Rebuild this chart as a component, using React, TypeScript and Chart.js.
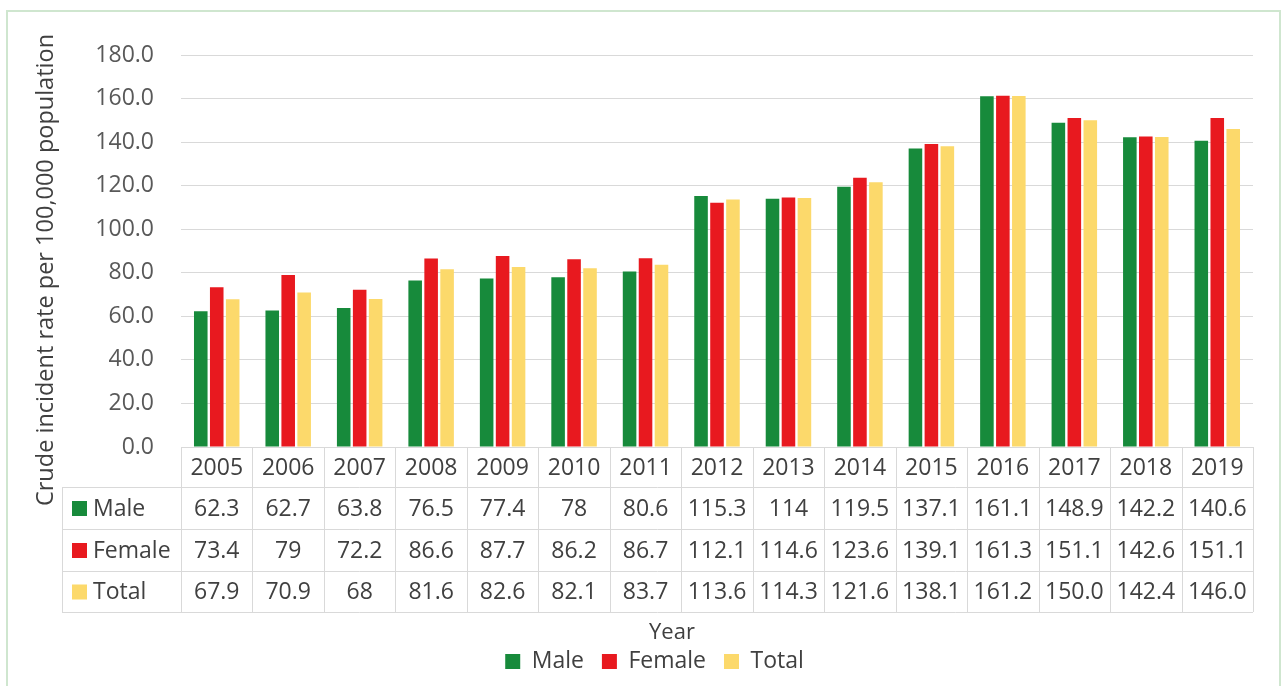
import React, { useEffect, useRef } from "react";
import { Chart, registerables } from "chart.js";

Chart.register(...registerables);

const years = ["2005", "2006", "2007", "2008", "2009", "2010", "2011", "2012", "2013", "2014", "2015", "2016", "2017", "2018", "2019"];
const maleText = ["62.3", "62.7", "63.8", "76.5", "77.4", "78", "80.6", "115.3", "114", "119.5", "137.1", "161.1", "148.9", "142.2", "140.6"];
const femaleText = ["73.4", "79", "72.2", "86.6", "87.7", "86.2", "86.7", "112.1", "114.6", "123.6", "139.1", "161.3", "151.1", "142.6", "151.1"];
const totalText = ["67.9", "70.9", "68", "81.6", "82.6", "82.1", "83.7", "113.6", "114.3", "121.6", "138.1", "161.2", "150.0", "142.4", "146.0"];
const seriesNames = ["Male", "Female", "Total"];
const seriesColors = ["#178a3b", "#e8191f", "#fcd96b"];
const yMin = 0;
const yMax = 180;
const yStep = 20;
const yTitle = "Crude incident rate per 100,000 population";
const xTitle = "Year";

const FONT = "'Open Sans', 'Noto Sans', sans-serif";
const TEXT = "#404040";
const GRID = "#d9d9d9";

const tablePlugin = {
  id: "dataTable",
  afterDraw(chart: any) {
    const { ctx } = chart;
    const x = chart.scales.x;
    const y = chart.scales.y;
    const n = years.length;
    const left = x.left;
    const right = x.right;
    const cw = (right - left) / n;
    const top = y.bottom;
    const rows = [top, top + 40, top + 82, top + 124, top + 165];
    const labelLeft = 62;
    const px = (v: number) => Math.round(v) + 0.5;

    ctx.save();
    ctx.strokeStyle = GRID;
    ctx.lineWidth = 1;
    ctx.beginPath();
    ctx.moveTo(left, px(rows[0]));
    ctx.lineTo(right, px(rows[0]));
    for (let i = 1; i < rows.length; i++) {
      ctx.moveTo(labelLeft, px(rows[i]));
      ctx.lineTo(right, px(rows[i]));
    }
    for (let i = 0; i <= n; i++) {
      const xx = px(left + i * cw);
      ctx.moveTo(xx, rows[0]);
      ctx.lineTo(xx, rows[4]);
    }
    ctx.moveTo(px(labelLeft), rows[1]);
    ctx.lineTo(px(labelLeft), rows[4]);
    ctx.stroke();

    ctx.fillStyle = TEXT;
    ctx.font = `23px ${FONT}`;
    ctx.textAlign = "center";
    ctx.textBaseline = "middle";
    years.forEach((yr, i) => {
      ctx.fillText(yr, x.getPixelForValue(i), (rows[0] + rows[1]) / 2 + 1);
    });
    const texts = [maleText, femaleText, totalText];
    texts.forEach((arr, r) => {
      const cy = (rows[r + 1] + rows[r + 2]) / 2 + 1;
      arr.forEach((t, i) => {
        ctx.fillText(t, x.getPixelForValue(i), cy);
      });
    });
    ctx.textAlign = "left";
    seriesNames.forEach((name, r) => {
      const cy = (rows[r + 1] + rows[r + 2]) / 2;
      ctx.fillStyle = seriesColors[r];
      ctx.fillRect(72, cy - 7, 15, 15);
      ctx.fillStyle = TEXT;
      ctx.fillText(name, 93, cy + 1);
    });

    // axis titles
    ctx.textAlign = "center";
    ctx.font = `23.5px ${FONT}`;
    ctx.save();
    ctx.translate(46, 270);
    ctx.rotate(-Math.PI / 2);
    ctx.fillText(yTitle, 0, 0);
    ctx.restore();
    ctx.font = `22px ${FONT}`;
    ctx.fillText(xTitle, 672, 633);

    // outer frame
    ctx.strokeStyle = "#cfe6cf";
    ctx.lineWidth = 2;
    ctx.strokeRect(7, 11, 1273, 690);
    ctx.restore();
  },
};

export default function App() {
  const ref = useRef<HTMLCanvasElement | null>(null);

  useEffect(() => {
    if (!ref.current) return;
    const chart = new Chart(ref.current, {
      type: "bar",
      data: {
        labels: years,
        datasets: [maleText, femaleText, totalText].map((arr, i) => ({
          label: seriesNames[i],
          data: arr.map(Number),
          backgroundColor: seriesColors[i],
          borderWidth: 0,
          categoryPercentage: 0.67,
          barPercentage: 0.85,
        })),
      },
      options: {
        responsive: false,
        animation: false,
        devicePixelRatio: 1,
        layout: { padding: { left: 26, right: 0, top: 55, bottom: 3 } },
        plugins: {
          legend: {
            position: "bottom",
            labels: {
              font: { family: FONT, size: 23 },
              color: TEXT,
              boxWidth: 15,
              boxHeight: 15,
              padding: 18,
            },
          },
          tooltip: { enabled: false },
        },
        scales: {
          x: {
            ticks: { display: false },
            grid: { display: false },
            border: { display: false },
            afterFit: (s: any) => {
              s.height = 185;
            },
          },
          y: {
            min: yMin,
            max: yMax,
            ticks: {
              stepSize: yStep,
              padding: 27,
              color: "#595959",
              font: { family: FONT, size: 23 },
              callback: (v: any) => Number(v).toFixed(1),
            },
            grid: { color: GRID, drawTicks: false },
            border: { display: false },
            afterFit: (s: any) => {
              s.width = 155;
            },
          },
          y2: {
            position: "right",
            display: true,
            ticks: { display: false },
            grid: { display: false },
            border: { display: false },
            afterFit: (s: any) => {
              s.width = 30;
            },
          },
        },
      },
      plugins: [tablePlugin],
    });
    return () => chart.destroy();
  }, []);

  return (
    <div style={{ position: "fixed", left: 0, top: 0, width: 1283, height: 686, background: "#fff" }}>
      <canvas ref={ref} width={1283} height={686} style={{ display: "block", width: 1283, height: 686 }} />
    </div>
  );
}
